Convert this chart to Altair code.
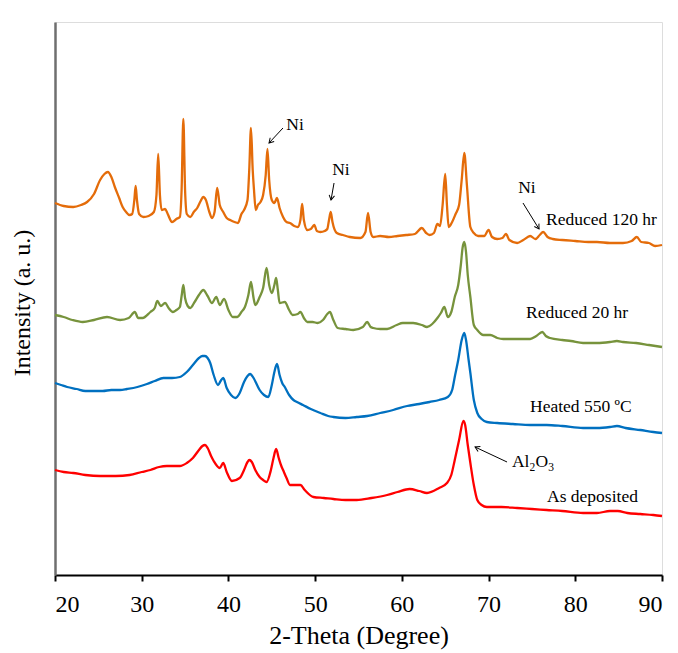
import math
import altair as alt
import pandas as pd

# ---------------- data ----------------
orange_x = [20.0, 21.0, 22.1, 23.0, 23.7, 24.5, 25.2, 25.7, 26.1, 26.5, 26.9, 27.4, 27.8, 28.2, 28.6, 28.9,
            29.15, 29.3, 29.45, 29.7, 30.2, 30.8, 31.4, 31.7, 31.9, 32.1, 32.3, 32.7, 33.0, 33.5, 34.0, 34.4,
            34.6, 34.8, 35.0, 35.2, 35.6, 36.0, 36.4, 36.8, 37.1, 37.4, 37.8, 38.1, 38.4, 38.7, 39.0, 39.4,
            39.8, 40.2, 40.7, 41.1, 41.5, 41.8, 42.2, 42.4, 42.6, 42.8, 42.95, 43.15, 43.4, 43.7, 44.0, 44.3,
            44.5, 44.7, 45.0, 45.3, 45.6, 45.9, 46.3, 46.7, 47.1, 47.6, 48.0, 48.3, 48.5, 48.7, 49.1, 49.5,
            49.9, 50.2, 50.6, 51.1, 51.4, 51.6, 51.8, 52.0, 52.5, 53.2, 54.0, 55.2, 55.8, 56.1, 56.4, 56.7,
            57.5, 58.5, 59.5, 60.5, 61.5, 62.3, 62.8, 63.2, 63.7, 64.1, 64.4, 64.7, 65.0, 65.2, 65.4, 65.8,
            66.2, 66.6, 66.9, 67.2, 67.5, 67.9, 68.3, 68.8, 69.5, 70.0, 70.4, 71.0, 71.6, 72.0, 72.4, 73.3,
            74.0, 74.8, 75.4, 75.9, 76.3, 76.8, 77.4, 78.5, 80.0, 81.5, 82.5, 84.0, 85.5, 86.5, 87.1, 87.6,
            88.5, 89.2, 90.0]
orange_y = [372, 369, 368, 370, 373, 381, 395, 401, 403, 398, 388, 377, 368, 363, 360, 361,
            375, 389, 375, 361, 358, 359, 363, 380, 421, 380, 365, 366, 361, 353, 356, 358,
            385, 456, 385, 361, 358, 363, 367, 374, 378, 375, 363, 357, 363, 387, 370, 363,
            357, 355, 353, 352, 361, 365, 375, 405, 447, 405, 385, 365, 370, 373, 380, 400,
            426, 395, 375, 372, 377, 367, 358, 353, 352, 349, 348, 355, 371, 355, 345, 346,
            350, 344, 343, 344, 346, 355, 363, 353, 342, 340, 338, 337, 343, 362, 343, 338,
            339, 338, 339, 340, 341, 347, 342, 340, 342, 351, 349, 370, 401, 370, 348, 353,
            361, 370, 395, 422, 390, 348, 342, 339, 339, 345, 338, 336, 337, 341, 335, 332,
            335, 339, 336, 340, 343, 338, 336, 335, 334, 333, 333, 332, 332, 334, 338, 333,
            332, 329, 330]

green_x = [20.0, 21.0, 22.0, 23.2, 24.5, 26.0, 27.5, 28.5, 29.2, 29.6, 30.1, 31.0, 31.5, 31.8, 32.2, 32.7,
           33.1, 33.6, 34.0, 34.4, 34.6, 34.8, 35.0, 35.3, 35.6, 36.1, 36.6, 37.1, 37.6, 38.1, 38.6, 39.0,
           39.5, 40.0, 40.5, 41.0, 41.5, 41.9, 42.3, 42.6, 42.9, 43.1, 43.6, 44.0, 44.4, 44.7, 45.0, 45.3,
           45.5, 45.7, 45.9, 46.5, 47.0, 47.4, 48.0, 48.3, 48.7, 49.1, 49.7, 50.3, 50.9, 51.4, 51.7, 52.1,
           52.6, 53.5, 54.4, 55.5, 56.0, 56.4, 56.7, 57.5, 58.3, 59.4, 60.1, 61.3, 62.3, 62.9, 63.5, 64.1,
           64.5, 64.9, 65.3, 65.7, 66.1, 66.5, 66.8, 67.0, 67.2, 67.4, 67.6, 67.9, 68.3, 68.7, 69.4, 70.2,
           71.0, 71.7, 73.0, 74.8, 75.5, 76.2, 76.6, 77.1, 78.5, 79.5, 80.9, 82.5, 84.0, 84.8, 85.5, 87.0,
           88.5, 90.0]
green_y = [260, 258, 255, 253, 255, 258, 255, 257, 263, 257, 257, 263, 267, 274, 269, 272,
           267, 263, 265, 268, 279, 290, 277, 269, 267, 273, 280, 285, 279, 272, 278, 270,
           276, 265, 258, 258, 263, 268, 280, 293, 277, 270, 278, 287, 307, 290, 282, 290,
           297, 285, 272, 273, 265, 260, 261, 263, 257, 253, 253, 252, 255, 261, 263, 255,
           247, 246, 245, 248, 253, 248, 247, 246, 246, 250, 252, 252, 250, 248, 251, 257,
           262, 268, 258, 263, 278, 290, 310, 327, 333, 323, 300, 278, 250, 245, 240, 240,
           237, 236, 236, 236, 239, 243, 239, 237, 235, 234, 232, 232, 233, 234, 233, 232,
           230, 228]

blue_x = [20.0, 20.7, 21.4, 22.5, 23.5, 24.4, 25.5, 26.5, 27.5, 28.3, 29.5, 30.6, 31.5, 32.5, 33.5, 34.4,
          35.2, 35.9, 36.6, 37.0, 37.3, 37.6, 37.9, 38.3, 38.8, 39.1, 39.4, 39.8, 40.3, 40.8, 41.3, 41.8,
          42.2, 42.5, 42.9, 43.3, 43.6, 44.1, 44.6, 45.0, 45.3, 45.6, 45.9, 46.2, 46.5, 47.0, 47.5, 47.9,
          48.6, 49.5, 50.6, 51.5, 52.1, 53.5, 54.8, 56.0, 57.5, 59.0, 60.6, 62.0, 63.2, 64.3, 65.3, 65.8,
          66.1, 66.5, 66.9, 67.2, 67.4, 67.7, 67.9, 68.3, 68.7, 69.2, 69.8, 71.0, 72.8, 74.8, 76.7, 78.5,
          80.9, 82.5, 84.0, 84.8, 85.8, 87.5, 89.0, 90.0]
blue_y = [192, 190, 188, 186, 184, 184, 184, 185, 185, 186, 188, 191, 194, 197, 197, 198,
          203, 210, 217, 219, 219, 217, 212, 200, 190, 194, 197, 187, 180, 177, 182, 193,
          199, 201, 197, 190, 185, 180, 178, 190, 203, 211, 200, 192, 188, 180, 175, 173,
          170, 166, 162, 159, 158, 157, 158, 159, 162, 165, 169, 171, 173, 175, 178, 185,
          198, 215, 235, 242, 235, 215, 202, 175, 162, 156, 153, 152, 151, 150, 150, 149,
          147, 147, 148, 149, 147, 145, 143, 142]

red_x = [20.0, 21.0, 22.1, 23.5, 25.2, 27.0, 28.6, 30.0, 31.0, 32.0, 32.9, 34.4, 35.2, 35.9, 36.6, 37.0,
         37.3, 37.6, 38.0, 38.3, 39.0, 39.4, 39.8, 40.4, 41.3, 41.8, 42.2, 42.4, 42.7, 43.1, 43.6, 44.0,
         44.4, 44.9, 45.2, 45.5, 45.8, 46.1, 46.3, 46.7, 47.1, 47.7, 48.3, 48.8, 49.8, 51.0, 52.1, 53.5,
         54.8, 56.5, 58.3, 59.5, 60.9, 62.0, 62.9, 64.3, 65.2, 65.7, 66.1, 66.6, 67.1, 67.3, 67.6, 67.9,
         68.3, 68.7, 69.2, 69.8, 71.5, 73.3, 75.0, 76.7, 78.5, 80.9, 82.5, 84.0, 84.9, 86.0, 87.5, 89.0,
         90.0]
red_y = [105, 103, 102, 100, 99, 99, 100, 103, 105, 108, 109, 109, 112, 117, 125, 129,
         130, 127, 119, 114, 107, 112, 103, 94, 97, 105, 113, 115, 113, 105, 98, 95,
         93, 105, 117, 126, 117, 109, 105, 97, 90, 90, 90, 85, 78, 77, 76, 75,
         75, 77, 80, 83, 86, 84, 82, 87, 92, 100, 115, 135, 154, 150, 130, 112,
         90, 75, 70, 68, 68, 67, 66, 65, 64, 62, 62, 64, 64, 62, 61, 60,
         59]

series_names = ["As deposited", "Heated 550 ºC", "Reduced 20 hr", "Reduced 120 hr"]
series_colors = ["#FF0000", "#0070C0", "#77933C", "#E46C0A"]

x_ticks = [20, 30, 40, 50, 60, 70, 80, 90]

# series labels (text, x, y)
label_text = ["Reduced 120 hr", "Reduced 20 hr", "Heated 550 ºC", "As deposited", "Ni", "Ni", "Ni"]
label_x = [76.63, 74.32, 74.78, 76.74, 47.68, 52.98, 74.43]
label_y = [355, 262, 168, 78, 450, 405, 387]

# arrows: start -> end (tip)
arrow_x1 = [46.29, 52.18, 73.97, 72.13]
arrow_y1 = [447, 392, 372, 113]
arrow_x2 = [44.68, 51.83, 75.82, 68.44]
arrow_y2 = [432, 375, 346, 128]

# Al2O3 label anchor
al_x = [72.70]
al_y = [113]

# ---------------- build tables ----------------
rows = []
for name, xs, ys in zip(series_names,
                        [red_x, blue_x, green_x, orange_x],
                        [red_y, blue_y, green_y, orange_y]):
    for i, (a, b) in enumerate(zip(xs, ys)):
        rows.append({"series": name, "theta": a, "intensity": b, "order": i})
df = pd.DataFrame(rows)

W, H = 607, 553
XMIN, XMAX, YMIN, YMAX = 20, 90, 0, 553
FONT = "Liberation Serif, Times New Roman, serif"

labels = pd.DataFrame({"text": label_text, "x": label_x, "y": label_y})
lab_left = labels.iloc[:4]
lab_ni = labels.iloc[4:]

angles = []
for x1, y1, x2, y2 in zip(arrow_x1, arrow_y1, arrow_x2, arrow_y2):
    dx = (x2 - x1) * W / (XMAX - XMIN)
    dy = -(y2 - y1) * H / (YMAX - YMIN)
    angles.append(math.degrees(math.atan2(dx, -dy)) % 360)
arrows = pd.DataFrame({"x1": arrow_x1, "y1": arrow_y1, "x2": arrow_x2, "y2": arrow_y2, "ang": angles})

xscale = alt.Scale(domain=[XMIN, XMAX], nice=False, zero=False)
yscale = alt.Scale(domain=[YMIN, YMAX], nice=False, zero=False)

xaxis = alt.Axis(values=x_ticks, title="2-Theta (Degree)", grid=False,
                 tickSize=6, tickWidth=2, tickColor="black",
                 domainColor="black", domainWidth=2,
                 labelFont=FONT, labelFontSize=24, labelColor="black", labelPadding=11,
                 titleFont=FONT, titleFontSize=26, titleFontWeight="normal", titleColor="black",
                 titlePadding=6)
yaxis = alt.Axis(title="Intensity (a. u.)", labels=False, ticks=False, grid=False,
                 domainColor="#6f6f6f", domainWidth=2.5,
                 titleFont=FONT, titleFontSize=24, titleFontWeight="normal", titleColor="black",
                 titleX=-33, titleY=H / 2 + 4, titleAngle=270, titleAlign="center", titleBaseline="middle")

lines = alt.Chart(df).mark_line(strokeWidth=2.3, interpolate="monotone").encode(
    x=alt.X("theta:Q", scale=xscale, axis=xaxis),
    y=alt.Y("intensity:Q", scale=yscale, axis=yaxis),
    color=alt.Color("series:N", scale=alt.Scale(domain=series_names, range=series_colors), legend=None),
    detail="series:N",
    order="order:Q",
)

txt_left = alt.Chart(lab_left).mark_text(font=FONT, fontSize=17.5, align="left", baseline="middle",
                                         color="black").encode(
    x=alt.X("x:Q", scale=xscale), y=alt.Y("y:Q", scale=yscale), text="text:N")
txt_ni = alt.Chart(lab_ni).mark_text(font=FONT, fontSize=17.5, align="center", baseline="middle",
                                     color="black").encode(
    x=alt.X("x:Q", scale=xscale), y=alt.Y("y:Q", scale=yscale), text="text:N")

al_df = pd.DataFrame({"x": al_x, "y": al_y})
al_parts = []
for t, dx, dy, fs in [("Al", 0, 0, 17.5), ("2", 17.5, 6, 11.5), ("O", 23.5, 0, 17.5), ("3", 36.2, 6, 11.5)]:
    al_parts.append(alt.Chart(al_df).mark_text(font=FONT, fontSize=fs, align="left", baseline="middle",
                                               color="black", text=t, dx=dx, dy=dy).encode(
        x=alt.X("x:Q", scale=xscale), y=alt.Y("y:Q", scale=yscale)))

arrow_lines = alt.Chart(arrows).mark_rule(color="black", strokeWidth=1).encode(
    x=alt.X("x1:Q", scale=xscale), y=alt.Y("y1:Q", scale=yscale),
    x2="x2:Q", y2="y2:Q")
arrow_heads = alt.Chart(arrows).mark_point(shape="M-0.7,1.2L0,0L0.7,1.2", filled=False, color="black",
                                           strokeWidth=1, size=60, opacity=1).encode(
    x=alt.X("x2:Q", scale=xscale), y=alt.Y("y2:Q", scale=yscale),
    angle=alt.Angle("ang:Q", scale=None))

chart = alt.layer(lines, txt_left, txt_ni, *al_parts, arrow_lines, arrow_heads).properties(
    width=W, height=H,
    autosize=alt.AutoSizeParams(type="none"),
    padding={"left": 47, "top": 14, "right": 8, "bottom": 78},
).configure_view(stroke="#222222", strokeWidth=1.5).configure(background="white")

chart.save("out.html", embed_options={"renderer": "svg", "actions": False})
